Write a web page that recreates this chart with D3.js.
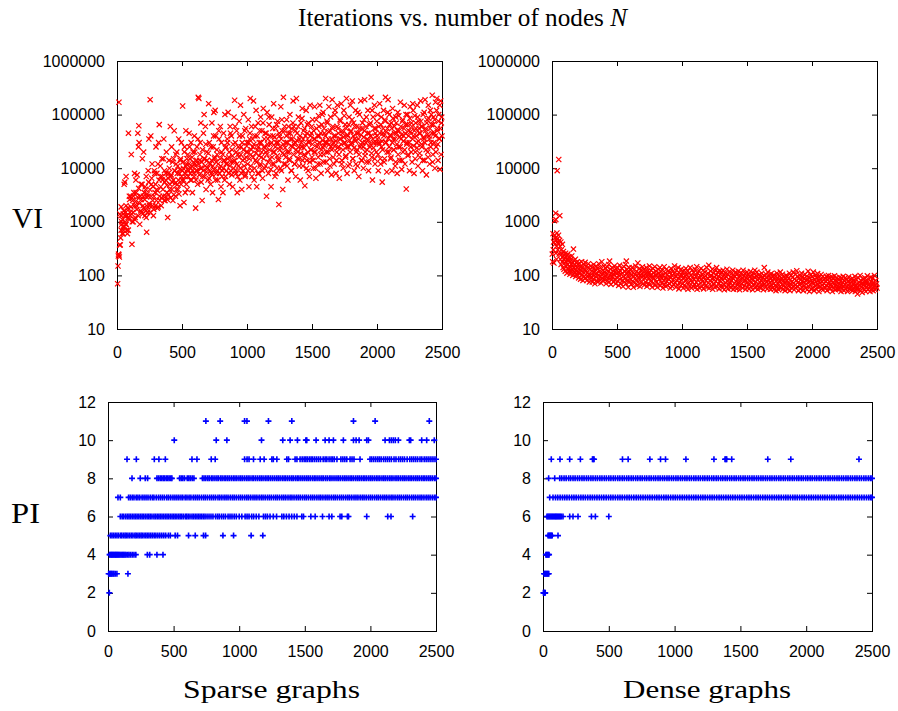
<!DOCTYPE html>
<html><head><meta charset="utf-8">
<script src="https://cdn.jsdelivr.net/npm/d3@7"></script>
<style>body{margin:0;background:#fff}svg{display:block}</style>
</head><body>
<svg id="c" width="898" height="711"></svg>
<script>
const xTicks = [0,500,1000,1500,2000,2500];
const logTicks = [10,100,1000,10000,100000,1000000];
const piTicks = [0,2,4,6,8,10,12];

// VI iterations, sparse graphs [N, iterations]
const sparseVI = [
[5,70],[8,150],[10,230],[12,250],[15,240],[18,220],[20,370],[25,370],[30,1300],[32,1900],[35,1000],[40,600],[45,800],[48,1400],[50,700],[15,170000],[22,1400],[28,500],
[55,5000],[60,1300],[65,900],[70,2000],[75,700],[80,600],[85,1200],[88,45000],[95,3000],[100,1500],[70,7000],[60,5500],
[110,18000],[115,380],[120,2500],[125,1000],[130,3500],[140,1200],[145,6000],[150,2000],[105,3000],[135,8000],
[160,45000],[165,25000],[170,30000],[175,900],[180,3000],[185,5000],[190,1500],[195,15000],[200,2000],[155,7500],[168,62000],
[210,3500],[215,1300],[220,4000],[225,7000],[228,640],[235,1500],[240,3000],[245,35000],[250,2000],[205,20000],[225,1200],[240,9000],
[255,190000],[260,40000],[265,5000],[270,12000],[275,2500],[280,1300],[285,3000],[290,8000],[295,2000],[300,25000],
[305,4000],[310,1800],[315,12000],[320,30000],[325,65000],[330,2500],[335,7000],[340,2000],[345,15000],[350,6000],
[355,3000],[360,35000],[365,9000],[370,2500],[375,6000],[380,20000],[385,3500],[390,1200],[395,8000],[400,14000],
[405,4000],[410,60000],[415,7000],[420,25000],[425,5500],[430,2500],[435,15000],[440,50000],[445,9000],[450,3000],
[455,12000],[460,20000],[465,5000],[470,4000],[475,35000],[480,8000],[485,2000],[490,15000],[495,30000],[500,6000],
[505,145000],[510,10000],[515,2300],[520,25000],[525,7000],[530,50000],[535,12000],[540,4000],[545,18000],[550,9000],[525,3500],
[555,45000],[560,15000],[565,6000],[570,30000],[575,11000],[580,3500],[585,20000],[590,8000],[595,40000],[600,12000],
[605,1800],[610,9000],[615,25000],[620,5000],[625,210000],[630,200000],[635,14000],[640,30000],[645,70000],[650,10000],
[655,2500],[660,7000],[665,45000],[670,100000],[675,15000],[680,60000],[685,4000],[690,20000],[695,10000],[700,6000],
[705,160000],[710,30000],[715,12000],[720,5000],[725,8000],[730,70000],[735,3500],[740,25000],[745,110000],[750,15000],
[755,120000],[760,40000],[765,8000],[770,18000],[775,6000],[780,2600],[785,35000],[790,10000],[795,60000],[800,4500],
[805,20000],[810,9000],[815,3500],[820,45000],[825,14000],[830,100000],[835,7000],[840,25000],[845,12000],[850,30000],
[855,110000],[860,16000],[865,5000],[870,60000],[875,9000],[880,40000],[885,22000],[890,4500],[895,13000],[900,90000],
[905,185000],[910,30000],[915,8000],[920,50000],[925,3500],[930,18000],[935,11000],[940,75000],[945,6000],[950,150000],
[955,25000],[960,4000],[965,40000],[970,9000],[975,100000],[980,15000],[985,7000],[990,55000],[995,20000],[1000,30000],
[1005,12000],[1010,80000],[1015,4500],[1020,35000],[1025,200000],[1030,18000],[1035,60000],[1040,9000],[1045,25000],[1050,180000],
[1055,6000],[1060,40000],[1065,14000],[1070,120000],[1075,4500],[1080,22000],[1085,70000],[1090,8000],[1095,30000],[1100,11000],
[1105,90000],[1110,16000],[1115,50000],[1120,6500],[1125,130000],[1130,25000],[1135,10000],[1140,45000],[1145,20000],[1150,3000],
[1155,110000],[1160,35000],[1165,8000],[1170,65000],[1175,15000],[1180,28000],[1185,4500],[1190,90000],[1195,12000],[1200,40000],
[1205,160000],[1210,20000],[1215,7000],[1220,55000],[1225,30000],[1230,10000],[1235,75000],[1240,15000],[1245,2100],[1250,40000],
[1255,25000],[1260,140000],[1265,9000],[1270,50000],[1275,4000],[1280,210000],[1285,18000],[1290,60000],[1295,12000],[1300,30000],
[1305,80000],[1310,20000],[1315,6000],[1320,45000],[1325,15000],[1330,100000],[1335,35000],[1340,9000],[1345,55000],[1350,25000],
[1355,180000],[1360,60000],[1365,12000],[1370,30000],[1375,7000],[1380,200000],[1385,45000],[1390,20000],[1395,90000],[1400,15000],
[1405,35000],[1410,6000],[1415,70000],[1420,25000],[1425,130000],[1430,11000],[1435,50000],[1440,18000],[1445,4700],[1450,40000],
[1455,120000],[1460,14000],[1465,65000],[1470,9000],[1475,30000],[1480,7000],[1485,150000],[1490,22000],[1495,45000],[1500,16000],
[1505,80000],[1510,10000],[1515,35000],[1520,140000],[1525,20000],[1530,6500],[1535,55000],[1540,28000],[1545,12000],[1550,95000],
[1555,40000],[1560,150000],[1565,18000],[1570,8000],[1575,65000],[1580,25000],[1585,110000],[1590,13000],[1595,45000],[1600,30000],
[1605,200000],[1610,20000],[1615,75000],[1620,9000],[1625,35000],[1630,140000],[1635,15000],[1640,50000],[1645,25000],[1650,7500],
[1655,190000],[1660,60000],[1665,30000],[1670,12000],[1675,100000],[1680,40000],[1685,8000],[1690,20000],[1695,150000],[1700,55000],
[1705,25000],[1710,6500],[1715,80000],[1720,35000],[1725,160000],[1730,14000],[1735,45000],[1740,10000],[1745,120000],[1750,30000],
[1755,65000],[1760,17000],[1765,200000],[1770,8000],[1775,40000],[1780,25000],[1785,90000],[1790,12000],[1795,150000],[1800,50000],
[1805,30000],[1810,180000],[1815,15000],[1820,70000],[1825,9000],[1830,35000],[1835,120000],[1840,20000],[1845,60000],[1850,11000],
[1855,45000],[1860,7000],[1865,100000],[1870,25000],[1875,180000],[1880,14000],[1885,55000],[1890,30000],[1895,10000],[1900,80000],
[1905,190000],[1910,20000],[1915,60000],[1920,13000],[1925,35000],[1930,120000],[1935,9000],[1940,45000],[1945,25000],[1950,70000],
[1955,210000],[1960,16000],[1965,6000],[1970,90000],[1975,30000],[1980,150000],[1985,12000],[1990,55000],[1995,20000],[2000,40000],
[2005,100000],[2010,9000],[2015,30000],[2020,160000],[2025,15000],[2030,65000],[2035,25000],[2040,5500],[2045,45000],[2050,120000],
[2055,13000],[2060,80000],[2065,210000],[2070,30000],[2075,8500],[2080,55000],[2085,190000],[2090,20000],[2095,100000],[2100,40000],
[2105,15000],[2110,70000],[2115,9000],[2120,130000],[2125,35000],[2130,22000],[2135,60000],[2140,11000],[2145,90000],[2150,45000],
[2155,8000],[2160,110000],[2165,25000],[2170,50000],[2175,14000],[2180,170000],[2185,35000],[2190,9500],[2195,75000],[2200,20000],
[2205,40000],[2210,150000],[2215,12000],[2220,65000],[2225,4100],[2230,30000],[2235,100000],[2240,18000],[2245,50000],[2250,9000],
[2255,140000],[2260,25000],[2265,70000],[2270,13000],[2275,160000],[2280,40000],[2285,8000],[2290,95000],[2295,20000],[2300,55000],
[2305,30000],[2310,150000],[2315,11000],[2320,75000],[2325,45000],[2330,16000],[2335,180000],[2340,60000],[2345,25000],[2350,9000],
[2355,100000],[2360,35000],[2365,14000],[2370,190000],[2375,55000],[2380,7500],[2385,80000],[2390,20000],[2395,150000],[2400,40000],
[2405,12000],[2410,120000],[2415,30000],[2420,65000],[2425,230000],[2430,18000],[2435,90000],[2440,45000],[2445,10000],[2450,170000],
[2455,25000],[2460,200000],[2465,55000],[2470,14000],[2475,100000],[2480,35000],[2485,9500],[2490,180000],[2495,70000],[2500,40000],
[32,700],[36,900],[42,1100],[47,600],[53,1600],[57,800],[63,1000],[67,1500],[72,900],[77,1300],[83,1800],[87,700],[93,1100],[97,2600],[103,1300],[107,1900],[113,2800],[117,1000],[123,1500],[127,3000],[133,2000],[137,1100],[143,2400],[147,3500],[153,1700],[157,2900],[163,1300],[167,4200],[173,2200],[177,3000],[183,1600],[187,2600],[193,5000],[197,1400],[203,3000],[207,1800],[213,2600],[217,4500],[223,1600],[227,2900],[233,3300],[237,1900],[243,5500],[247,2200],[253,4000],[257,1500],[263,3000],[267,6500],[273,2000],[277,4500],[283,1700],[287,9000],[293,3500],[297,5000],[303,2500],[307,8000],[313,3800],[317,1900],[323,6000],[327,3000],[333,11000],[337,4500],[343,2800],[347,7000],[353,4000],[357,15000],[363,2500],[367,5500],[373,3000],[377,8000],[383,4800],[387,2600],[393,6500],[397,3200],[403,10000],[407,5000],[413,2800],[417,7500],[423,4000],[427,13000],[433,6000],[437,3200],[443,9000],[447,5200],[453,18000],[457,4000],[463,8000],[467,11000],[473,6000],[477,3300],[483,9500],[487,14000],[493,5000],[497,7000],
[503,9000],[508,13000],[513,6000],[518,20000],[523,8000],[528,11000],[533,5000],[538,15000],[543,9500],[548,7000],[553,12000],[558,25000],[563,8000],[568,10000],[573,6000],[578,16000],[583,9000],[588,13000],[593,7000],[598,20000],[603,11000],[608,6000],[613,14000],[618,9000],[623,35000],[628,12000],[633,7500],[638,18000],[643,10000],[648,5500],[653,13000],[658,22000],[663,9000],[668,15000],[673,7000],[678,11000],[683,28000],[688,8500],[693,14000],[698,10000],[703,19000],[708,6500],[713,12000],[718,9000],[723,25000],[728,14000],[733,7500],[738,11000],[743,40000],[748,9500],[753,16000],[758,6000],[763,13000],[768,22000],[773,9000],[778,12000],[783,50000],[788,8000],[793,15000],[798,11000],[803,30000],[808,7000],[813,18000],[818,10000],[823,14000],[828,6000],[833,24000],[838,12000],[843,9000],[848,35000],[853,15000],[858,8000],[863,20000],[868,11000],[873,45000],[878,13000],[883,7500],[888,17000],[893,28000],[898,10000],[903,14000],[908,60000],[913,9000],[918,20000],[923,12000],[928,7000],[933,25000],[938,16000],[943,40000],[948,10000],[953,18000],[958,8000],[963,30000],[968,14000],[973,22000],[978,11000],[983,50000],[988,7500],[993,16000],[998,26000],
[1003,20000],[1008,9000],[1013,30000],[1018,15000],[1023,45000],[1028,11000],[1033,22000],[1038,7000],[1043,35000],[1048,16000],[1053,28000],[1058,10000],[1063,60000],[1068,19000],[1073,13000],[1078,40000],[1083,8000],[1088,25000],[1093,17000],[1098,50000],[1103,12000],[1108,30000],[1113,20000],[1118,9000],[1123,70000],[1128,15000],[1133,35000],[1138,24000],[1143,11000],[1148,45000],[1153,18000],[1158,28000],[1163,13000],[1168,90000],[1173,22000],[1178,40000],[1183,9500],[1188,30000],[1193,16000],[1198,55000],[1203,20000],[1208,12000],[1213,38000],[1218,25000],[1223,8000],[1228,65000],[1233,17000],[1238,30000],[1243,14000],[1248,45000],[1253,22000],[1258,10000],[1263,35000],[1268,80000],[1273,19000],[1278,28000],[1283,12000],[1288,50000],[1293,24000],[1298,16000],[1303,40000],[1308,11000],[1313,30000],[1318,60000],[1323,20000],[1328,14000],[1333,45000],[1338,26000],[1343,9000],[1348,35000],[1353,70000],[1358,18000],[1363,28000],[1368,12000],[1373,50000],[1378,22000],[1383,33000],[1388,15000],[1393,60000],[1398,25000],[1403,11000],[1408,40000],[1413,19000],[1418,30000],[1423,85000],[1428,14000],[1433,35000],[1438,24000],[1443,55000],[1448,17000],[1453,28000],[1458,10000],[1463,45000],[1468,20000],[1473,70000],[1478,32000],[1483,13000],[1488,40000],[1493,22000],[1498,60000],
[1503,28000],[1508,14000],[1513,50000],[1518,20000],[1523,35000],[1528,10000],[1533,80000],[1538,25000],[1543,40000],[1548,16000],[1553,60000],[1558,30000],[1563,12000],[1568,45000],[1573,22000],[1578,100000],[1583,33000],[1588,18000],[1593,55000],[1598,26000],[1603,40000],[1608,13000],[1613,30000],[1618,70000],[1623,20000],[1628,48000],[1633,28000],[1638,11000],[1643,90000],[1648,35000],[1653,22000],[1658,55000],[1663,16000],[1668,40000],[1673,26000],[1678,120000],[1683,32000],[1688,14000],[1693,60000],[1698,24000],[1703,45000],[1708,18000],[1713,35000],[1718,75000],[1723,28000],[1728,12000],[1733,50000],[1738,22000],[1743,38000],[1748,95000],[1753,30000],[1758,16000],[1763,55000],[1768,25000],[1773,42000],[1778,11000],[1783,65000],[1788,33000],[1793,20000],[1798,48000],[1803,28000],[1808,80000],[1813,15000],[1818,40000],[1823,24000],[1828,60000],[1833,32000],[1838,12000],[1843,45000],[1848,22000],[1853,110000],[1858,35000],[1863,18000],[1868,55000],[1873,28000],[1878,42000],[1883,14000],[1888,70000],[1893,25000],[1898,38000],[1903,50000],[1908,17000],[1913,30000],[1918,90000],[1923,22000],[1928,45000],[1933,33000],[1938,13000],[1943,65000],[1948,28000],[1953,40000],[1958,19000],[1963,120000],[1968,35000],[1973,24000],[1978,55000],[1983,15000],[1988,45000],[1993,30000],[1998,75000],
[2003,35000],[2008,18000],[2013,60000],[2018,28000],[2023,45000],[2028,12000],[2033,90000],[2038,32000],[2043,22000],[2048,55000],[2053,40000],[2058,15000],[2063,75000],[2068,30000],[2073,48000],[2078,20000],[2083,110000],[2088,36000],[2093,25000],[2098,65000],[2103,42000],[2108,16000],[2113,55000],[2118,30000],[2123,85000],[2128,22000],[2133,45000],[2138,35000],[2143,13000],[2148,70000],[2153,28000],[2158,50000],[2163,18000],[2168,95000],[2173,38000],[2178,25000],[2183,60000],[2188,42000],[2193,14000],[2198,80000],[2203,32000],[2208,55000],[2213,22000],[2218,45000],[2223,100000],[2228,28000],[2233,65000],[2238,17000],[2243,40000],[2248,30000],[2253,85000],[2258,48000],[2263,20000],[2268,60000],[2273,35000],[2278,120000],[2283,26000],[2288,50000],[2293,15000],[2298,70000],[2303,40000],[2308,24000],[2313,90000],[2318,32000],[2323,55000],[2328,19000],[2333,45000],[2338,75000],[2343,28000],[2348,60000],[2353,14000],[2358,38000],[2363,110000],[2368,30000],[2373,50000],[2378,22000],[2383,70000],[2388,42000],[2393,16000],[2398,85000],[2403,35000],[2408,55000],[2413,25000],[2418,100000],[2423,45000],[2428,13000],[2433,65000],[2438,30000],[2443,80000],[2448,40000],[2453,20000],[2458,120000],[2463,50000],[2468,28000],[2473,75000],[2478,36000],[2483,150000],[2488,55000],[2493,18000],[2498,90000]
];

// VI iterations, dense graphs [N, iterations]
const denseVI = [
[2,250],[5,180],[8,600],[10,300],[12,420],[15,170],[18,550],[20,1050],[22,380],[25,500],[28,1450],[30,260],[32,450],[35,350],[38,620],[40,9000],[42,480],[45,300],[48,400],[50,560],[30,1100],[35,200],
[52,14500],[55,250],[58,450],[60,1300],[62,350],[65,200],[68,420],[70,160],[72,300],[75,250],[78,180],[80,380],[82,220],[85,140],[88,280],[90,200],[92,130],[95,240],[98,170],[100,210],
[102,120],[105,260],[108,180],[110,150],[112,230],[115,110],[118,200],[120,160],[122,250],[125,130],[128,190],[130,120],[132,220],[135,150],[138,105],[140,180],[142,140],[145,200],[148,120],[150,160],
[152,230],[155,130],[158,170],[160,100],[165,310],[168,140],[170,190],[172,115],[175,160],[178,130],[180,200],[182,95],[185,150],[188,120],[190,175],[192,105],[195,140],[198,115],[200,160],
[205,90],[208,130],[210,170],[215,110],[218,145],[220,85],[225,125],[228,180],[230,100],[235,140],[238,80],[240,115],[245,160],[248,95],[250,130],[255,175],[258,90],[260,120],[265,150],[268,80],[270,110],[275,140],[278,95],[280,165],[285,105],[288,75],[290,130],[295,100],[298,150],
[302,90],[305,120],[310,75],[312,140],[315,100],[320,160],[322,85],[325,115],[330,70],[333,130],[336,95],[340,150],[343,80],[346,110],[350,135],[353,75],[356,100],[360,165],[363,85],[366,120],[370,95],[373,140],[376,72],[380,105],[383,180],[386,88],[390,125],[393,78],[396,110],[400,150],
[403,85],[406,115],[410,95],[413,135],[416,70],[420,105],[423,145],[426,80],[430,120],[433,90],[436,160],[440,75],[443,185],[446,100],[450,130],[453,68],[456,110],[460,85],[463,140],[466,95],[470,120],[473,75],[476,105],[480,150],[483,82],[486,115],[490,70],[493,130],[496,92],[500,108],
[503,140],[506,78],[510,115],[513,65],[516,100],[520,155],[523,85],[526,120],[530,70],[533,105],[536,135],[540,80],[543,110],[546,62],[550,95],[553,145],[556,75],[560,120],[563,88],[566,160],[570,70],[572,185],[575,105],[578,130],[580,80],[583,115],[586,60],[590,95],[593,140],[596,75],[600,110],
[603,85],[606,125],[610,68],[613,100],[616,140],[620,78],[623,112],[626,60],[630,95],[633,130],[636,72],[640,105],[643,150],[646,82],[650,118],[653,65],[656,98],[660,170],[663,76],[666,110],[670,88],[673,135],[676,62],[680,100],[683,125],[686,74],[690,108],[693,92],[696,145],[700,70],
[703,100],[706,130],[710,66],[713,90],[716,118],[720,75],[723,105],[726,140],[730,62],[733,95],[736,120],[740,70],[743,85],[746,110],[750,150],[753,68],[756,98],[760,125],[763,80],[766,105],[770,60],[773,92],[776,135],[780,72],[783,112],[786,88],[790,145],[793,65],[796,100],[800,120],
[803,75],[806,105],[810,60],[813,92],[816,130],[820,70],[823,110],[826,85],[830,140],[833,64],[836,98],[840,118],[843,72],[846,88],[850,125],[853,58],[856,100],[860,80],[863,145],[866,68],[870,110],[873,90],[876,62],[880,130],[883,78],[886,104],[890,66],[893,120],[896,85],[900,95],
[903,70],[906,115],[910,58],[913,90],[916,135],[920,75],[923,100],[926,62],[930,120],[933,84],[936,68],[940,108],[943,150],[946,72],[950,95],[953,60],[956,125],[960,80],[963,105],[966,66],[970,140],[973,88],[976,56],[980,112],[983,74],[986,98],[990,64],[993,130],[996,82],[1000,100],
[1003,70],[1006,115],[1010,58],[1013,90],[1016,125],[1020,66],[1023,98],[1026,78],[1030,135],[1033,60],[1036,105],[1040,84],[1043,120],[1046,55],[1050,92],[1053,72],[1056,110],[1060,64],[1063,140],[1066,80],[1070,100],[1073,58],[1076,125],[1080,75],[1083,95],[1086,62],[1090,115],[1093,85],[1096,68],[1100,130],
[1103,60],[1106,95],[1110,75],[1113,145],[1116,55],[1120,110],[1123,82],[1126,66],[1130,120],[1133,90],[1136,58],[1140,100],[1143,72],[1146,135],[1150,85],[1153,62],[1156,105],[1160,78],[1163,125],[1166,56],[1170,92],[1173,70],[1176,115],[1180,64],[1183,98],[1186,80],[1190,140],[1193,60],[1196,88],[1200,110],
[1203,72],[1206,155],[1210,58],[1213,95],[1216,80],[1220,120],[1223,64],[1226,100],[1230,75],[1233,130],[1236,55],[1240,88],[1243,110],[1246,68],[1250,92],[1253,60],[1256,125],[1260,78],[1263,102],[1266,140],[1270,62],[1273,85],[1276,115],[1280,70],[1283,96],[1286,56],[1290,120],[1293,80],[1296,105],[1300,66],
[1303,90],[1306,115],[1310,58],[1313,82],[1316,125],[1320,68],[1323,100],[1326,54],[1330,88],[1333,110],[1336,72],[1340,95],[1343,62],[1346,130],[1350,78],[1353,56],[1356,105],[1360,85],[1363,66],[1366,118],[1370,74],[1373,92],[1376,58],[1380,108],[1383,80],[1386,64],[1390,125],[1393,88],[1396,55],[1400,100],
[1403,70],[1406,95],[1410,60],[1413,115],[1416,78],[1420,56],[1423,105],[1426,84],[1430,66],[1433,120],[1436,74],[1440,92],[1443,54],[1446,100],[1450,80],[1453,62],[1456,112],[1460,70],[1463,88],[1466,58],[1470,125],[1473,76],[1476,96],[1480,64],[1483,108],[1486,82],[1490,55],[1493,90],[1496,72],[1500,115],
[1503,60],[1506,85],[1510,105],[1513,68],[1516,56],[1520,95],[1523,78],[1526,118],[1530,62],[1533,88],[1536,72],[1540,100],[1543,54],[1546,82],[1550,110],[1553,66],[1556,92],[1560,125],[1563,58],[1566,76],[1570,98],[1573,64],[1576,115],[1580,84],[1583,55],[1586,70],[1590,102],[1593,60],[1596,88],[1600,74],
[1603,95],[1606,58],[1610,80],[1613,110],[1616,64],[1620,90],[1623,72],[1626,54],[1630,100],[1633,140],[1636,68],[1640,85],[1643,60],[1646,105],[1650,76],[1653,92],[1656,56],[1660,115],[1663,70],[1666,82],[1670,62],[1673,98],[1676,74],[1680,55],[1683,88],[1686,108],[1690,66],[1693,80],[1696,58],[1700,94],
[1703,70],[1706,102],[1710,56],[1713,84],[1716,65],[1720,95],[1723,52],[1726,78],[1730,110],[1733,62],[1736,88],[1740,70],[1743,54],[1746,98],[1750,75],[1753,60],[1756,115],[1760,82],[1763,58],[1766,90],[1770,68],[1773,105],[1776,55],[1780,80],[1783,64],[1786,94],[1790,72],[1793,52],[1796,86],[1800,100],
[1803,60],[1806,78],[1810,96],[1813,55],[1816,70],[1820,88],[1823,64],[1826,110],[1830,52],[1833,82],[1836,68],[1840,100],[1843,58],[1846,76],[1850,92],[1853,62],[1856,115],[1860,72],[1863,54],[1866,86],[1870,66],[1873,105],[1876,58],[1880,80],[1883,122],[1886,62],[1890,95],[1893,74],[1896,52],[1900,88],
[1903,68],[1906,100],[1910,56],[1913,82],[1916,70],[1920,110],[1923,60],[1926,78],[1930,94],[1933,52],[1936,74],[1940,88],[1943,64],[1946,105],[1950,58],[1953,80],[1956,70],[1960,96],[1963,54],[1966,84],[1970,120],[1973,62],[1976,76],[1980,50],[1983,90],[1986,66],[1990,102],[1993,56],[1996,80],[2000,72],
[2003,95],[2006,58],[2010,115],[2013,70],[2016,52],[2020,84],[2023,64],[2026,100],[2030,76],[2033,55],[2036,90],[2040,68],[2043,108],[2046,60],[2050,80],[2053,50],[2056,92],[2060,72],[2063,62],[2066,86],[2070,104],[2073,56],[2076,76],[2080,66],[2083,95],[2086,54],[2090,82],[2093,70],[2096,60],[2100,88],
[2103,58],[2106,78],[2110,96],[2113,64],[2116,52],[2120,84],[2123,70],[2126,100],[2130,60],[2133,76],[2136,90],[2140,56],[2143,68],[2146,82],[2150,62],[2153,94],[2156,50],[2160,74],[2163,86],[2166,58],[2170,70],[2173,98],[2176,64],[2180,54],[2183,80],[2186,66],[2190,90],[2193,56],[2196,76],[2200,62],
[2203,85],[2206,55],[2210,70],[2213,92],[2216,60],[2220,78],[2223,50],[2226,66],[2230,88],[2233,58],[2236,74],[2240,96],[2243,62],[2246,52],[2250,80],[2253,68],[2256,90],[2260,56],[2263,72],[2266,60],[2270,84],[2273,50],[2276,66],[2280,78],[2283,94],[2286,56],[2290,70],[2293,62],[2296,82],[2300,54],
[2303,76],[2306,60],[2310,88],[2313,52],[2316,68],[2320,80],[2323,58],[2326,72],[2330,96],[2333,50],[2336,64],[2340,84],[2343,56],[2346,70],[2350,45],[2353,62],[2356,90],[2360,54],[2363,74],[2366,66],[2370,100],[2373,52],[2376,80],[2380,60],[2383,70],[2386,48],[2390,86],[2393,58],[2396,68],[2400,76],
[2403,55],[2406,90],[2410,64],[2413,50],[2416,78],[2420,60],[2423,72],[2426,98],[2430,54],[2433,66],[2436,84],[2440,58],[2443,70],[2446,50],[2450,92],[2453,62],[2456,76],[2460,56],[2463,68],[2466,88],[2470,52],[2473,74],[2476,60],[2480,100],[2483,66],[2486,54],[2490,80],[2493,62],[2496,70],[2500,58]
];

// PI iterations, sparse graphs: [iterations, [N values]]
const sparsePI = [
[2,[10]],
[3,[5,12,18,24,30,38,45,55,68,152]],
[4,[12,18,25,30,36,42,48,55,60,66,72,78,85,92,100,108,115,122,130,138,150,160,172,185,198,212,300,318,373,419]],
[5,[18,30,42,55,68,80,95,105,118,130,140,152,165,178,190,205,215,228,240,252,262,275,288,300,312,325,338,352,365,380,395,410,425,440,460,475,512,530,614,665,728,744,876,957,1091,1180]],
[6,[94,108,120,135,148,160,172,185,198,210,222,235,248,260,272,285,298,310,322,335,350,362,375,388,400,412,425,438,450,462,475,488,500,512,525,538,550,562,575,590,600,612,625,640,652,665,678,690,702,715,728,740,755,770,785,800,820,835,848,865,880,895,915,930,945,962,978,1000,1020,1045,1060,1075,1095,1110,1130,1150,1185,1200,1215,1235,1260,1285,1325,1340,1360,1380,1400,1420,1440,1477,1490,1546,1579,1635,1685,1706,1769,1782,1825,1833,1972,2132,2157,2322]],
[7,[76,94,157,170,185,198,215,228,242,260,275,290,305,322,338,350,368,385,400,415,430,448,462,478,495,510,525,540,556,570,588,602,618,632,650,665,680,695,712,728,742,758,775,790,805,820,838,852,868,885,900,915,932,948,962,978,995,1010,1025,1042,1058,1072,1088,1105,1120,1135,1152,1168,1182,1198,1215,1230,1245,1262,1278,1292,1308,1325,1340,1355,1372,1388,1402,1418,1435,1450,1465,1482,1498,1512,1528,1545,1560,1575,1592,1608,1622,1638,1655,1670,1685,1702,1718,1732,1748,1765,1780,1795,1812,1828,1842,1858,1875,1890,1905,1922,1938,1952,1968,1985,2000,2015,2032,2048,2062,2078,2095,2110,2125,2142,2158,2172,2188,2205,2220,2235,2252,2268,2282,2298,2315,2330,2345,2362,2378,2392,2408,2425,2440,2455,2472,2488,2500]],
[8,[183,246,284,302,373,385,398,410,422,431,444,455,466,478,487,546,558,570,583,604,616,628,642,655,720,732,745,760,772,788,800,815,830,842,858,870,885,898,912,925,940,955,968,982,998,1012,1025,1040,1055,1068,1082,1098,1110,1125,1140,1155,1168,1182,1198,1212,1225,1240,1255,1270,1285,1298,1312,1328,1342,1355,1370,1385,1400,1412,1428,1442,1455,1470,1485,1500,1515,1528,1542,1558,1572,1585,1600,1615,1630,1642,1658,1672,1688,1700,1715,1730,1745,1758,1772,1788,1802,1815,1830,1845,1858,1872,1888,1902,1915,1930,1945,1958,1972,1988,2002,2015,2030,2045,2058,2072,2088,2102,2115,2130,2145,2158,2172,2188,2202,2215,2230,2245,2258,2272,2288,2302,2315,2330,2345,2358,2372,2388,2402,2415,2430,2445,2458,2472,2488,2500]],
[9,[145,216,353,388,437,640,678,787,817,1041,1060,1075,1109,1160,1190,1249,1260,1287,1363,1376,1426,1440,1464,1480,1495,1508,1520,1535,1548,1560,1575,1590,1605,1620,1640,1655,1668,1685,1700,1712,1725,1745,1775,1790,1805,1820,1845,1860,1875,1921,1997,2010,2025,2040,2055,2068,2082,2100,2115,2130,2145,2160,2180,2195,2215,2230,2245,2260,2280,2300,2315,2330,2345,2360,2378,2392,2410,2425,2440,2455,2470,2485,2500]],
[10,[505,825,906,1170,1332,1388,1444,1508,1515,1586,1655,1685,1718,1794,1871,1891,1914,1972,1985,2112,2145,2160,2175,2190,2213,2297,2307,2391,2429,2487]],
[11,[746,855,1041,1059,1223,1401,1871,2036,2449]]
];

// PI iterations, dense graphs: [iterations, [N values]]
const densePI = [
[2,[3,8,12,17]],
[3,[8,14,20,26,32,38,44]],
[4,[22,28,34,40,46]],
[5,[38,45,52,58,64,70,114]],
[6,[30,38,46,54,62,70,78,86,94,100,108,116,124,132,140,152,203,228,266,368,398,500]],
[7,[51,76,95,112,130,148,165,182,200,218,235,252,270,288,305,322,340,358,375,392,410,428,445,462,480,498,515,532,550,568,585,602,620,638,655,672,690,708,725,742,760,778,795,812,830,848,865,882,900,918,935,952,970,988,1005,1022,1040,1058,1075,1092,1110,1128,1145,1162,1180,1198,1215,1232,1250,1268,1285,1302,1320,1338,1355,1372,1390,1408,1425,1442,1460,1478,1495,1512,1530,1548,1565,1582,1600,1618,1635,1652,1670,1688,1705,1722,1740,1758,1775,1792,1810,1828,1845,1862,1880,1898,1915,1932,1950,1968,1985,2002,2020,2038,2055,2072,2090,2108,2125,2142,2160,2178,2195,2212,2230,2248,2265,2282,2300,2318,2335,2352,2370,2388,2405,2422,2440,2458,2475,2490,2500]],
[8,[43,89,127,142,160,176,195,210,228,244,262,278,296,312,330,346,364,380,398,414,432,448,466,482,500,516,534,550,568,584,602,618,636,652,670,686,704,720,738,754,772,788,806,822,840,856,874,890,908,924,942,958,976,992,1010,1026,1044,1060,1078,1094,1112,1128,1146,1162,1180,1196,1214,1230,1248,1264,1282,1298,1316,1332,1350,1366,1384,1400,1418,1434,1452,1468,1486,1502,1520,1536,1554,1570,1588,1604,1622,1638,1656,1672,1690,1706,1724,1740,1758,1774,1792,1808,1826,1842,1860,1876,1894,1910,1928,1944,1962,1978,1996,2012,2030,2046,2064,2080,2098,2114,2132,2148,2166,2182,2200,2216,2234,2250,2268,2284,2302,2318,2336,2352,2370,2386,2404,2420,2438,2454,2472,2488,2500]],
[9,[63,129,203,284,376,382,388,604,647,812,893,931,1086,1299,1383,1390,1396,1434,1708,1883,2401]]
];

const svg = d3.select('#c');
const SANS = "'Liberation Sans', Arial, Helvetica, sans-serif";
const SERIF = "'Liberation Serif', 'Times New Roman', serif";

const panels = [
  {l:117, r:442, t:61, b:329, log:true, lblPad:17.5},
  {l:552, r:877, t:61, b:329, log:true, lblPad:17.5},
  {l:108, r:436, t:402, b:631, log:false, lblPad:14.5},
  {l:543, r:872, t:402, b:631, log:false, lblPad:14.5}
];

function makePanel(p) {
  const x = d3.scaleLinear().domain([0,2500]).range([p.l, p.r]);
  const y = p.log ? d3.scaleLog().domain([10,1e6]).range([p.b, p.t])
                  : d3.scaleLinear().domain([0,12]).range([p.b, p.t]);
  const yt = p.log ? logTicks : piTicks;
  const g = svg.append('g');
  const bottom = g.append('g').attr('transform',`translate(0,${p.b})`)
    .call(d3.axisBottom(x).tickValues(xTicks).tickSizeInner(-5).tickSizeOuter(0).tickPadding(p.lblPad).tickFormat(d3.format('d')));
  const top = g.append('g').attr('transform',`translate(0,${p.t})`)
    .call(d3.axisTop(x).tickValues(xTicks).tickSizeInner(-5).tickSizeOuter(0).tickFormat(''));
  const left = g.append('g').attr('transform',`translate(${p.l},0)`)
    .call(d3.axisLeft(y).tickValues(yt).tickSizeInner(-5).tickSizeOuter(0).tickPadding(12).tickFormat(d3.format('d')));
  const right = g.append('g').attr('transform',`translate(${p.r},0)`)
    .call(d3.axisRight(y).tickValues(yt).tickSizeInner(-5).tickSizeOuter(0).tickFormat(''));
  [bottom,top,left,right].forEach(a=>{
    a.select('.domain').remove();
    a.selectAll('line').attr('stroke','#000').attr('stroke-width',1);
    a.selectAll('text').attr('font-family',SANS).attr('font-size',16).attr('fill','#000');
  });
  g.append('rect').attr('x',p.l+0.5).attr('y',p.t+0.5).attr('width',p.r-p.l).attr('height',p.b-p.t)
    .attr('fill','none').attr('stroke','#000').attr('stroke-width',1);
  return {x,y,g};
}

const P = panels.map(makePanel);
const crossPath = 'M-2.6,-2.6L2.6,2.6M-2.6,2.6L2.6,-2.6';
const plusPath = 'M-3,0L3,0M0,-3L0,3';

function drawVI(pp, data) {
  pp.g.append('g').selectAll('path').data(data).join('path')
    .attr('d', crossPath)
    .attr('transform', d => `translate(${pp.x(d[0])},${pp.y(d[1])})`)
    .attr('stroke','#ff0000').attr('stroke-width',1.2).attr('fill','none');
}
function drawPI(pp, levels) {
  const flat = [];
  levels.forEach(([lv, xs]) => xs.forEach(n => flat.push([n, lv])));
  pp.g.append('g').selectAll('path').data(flat).join('path')
    .attr('d', plusPath)
    .attr('transform', d => `translate(${pp.x(d[0])},${pp.y(d[1])})`)
    .attr('stroke','#0000ff').attr('stroke-width',1.6).attr('fill','none');
}
drawVI(P[0], sparseVI);
drawVI(P[1], denseVI);
drawPI(P[2], sparsePI);
drawPI(P[3], densePI);

// Titles
const title = svg.append('text').attr('x',298).attr('y',26)
  .attr('font-family',SERIF).attr('font-size',25).attr('fill','#000')
  .attr('textLength',329).attr('lengthAdjust','spacingAndGlyphs');
title.append('tspan').text('Iterations vs. number of nodes ');
title.append('tspan').attr('font-style','italic').text('N');

svg.append('text').attr('x',12).attr('y',228).attr('font-family',SERIF).attr('font-size',29)
  .attr('textLength',31).attr('lengthAdjust','spacingAndGlyphs').text('VI');
svg.append('text').attr('x',11).attr('y',523).attr('font-family',SERIF).attr('font-size',29)
  .attr('textLength',29).attr('lengthAdjust','spacingAndGlyphs').text('PI');
svg.append('text').attr('x',183).attr('y',698).attr('font-family',SERIF).attr('font-size',26)
  .attr('textLength',177).attr('lengthAdjust','spacingAndGlyphs').text('Sparse graphs');
svg.append('text').attr('x',623).attr('y',698).attr('font-family',SERIF).attr('font-size',26)
  .attr('textLength',168).attr('lengthAdjust','spacingAndGlyphs').text('Dense graphs');
</script>
</body></html>
